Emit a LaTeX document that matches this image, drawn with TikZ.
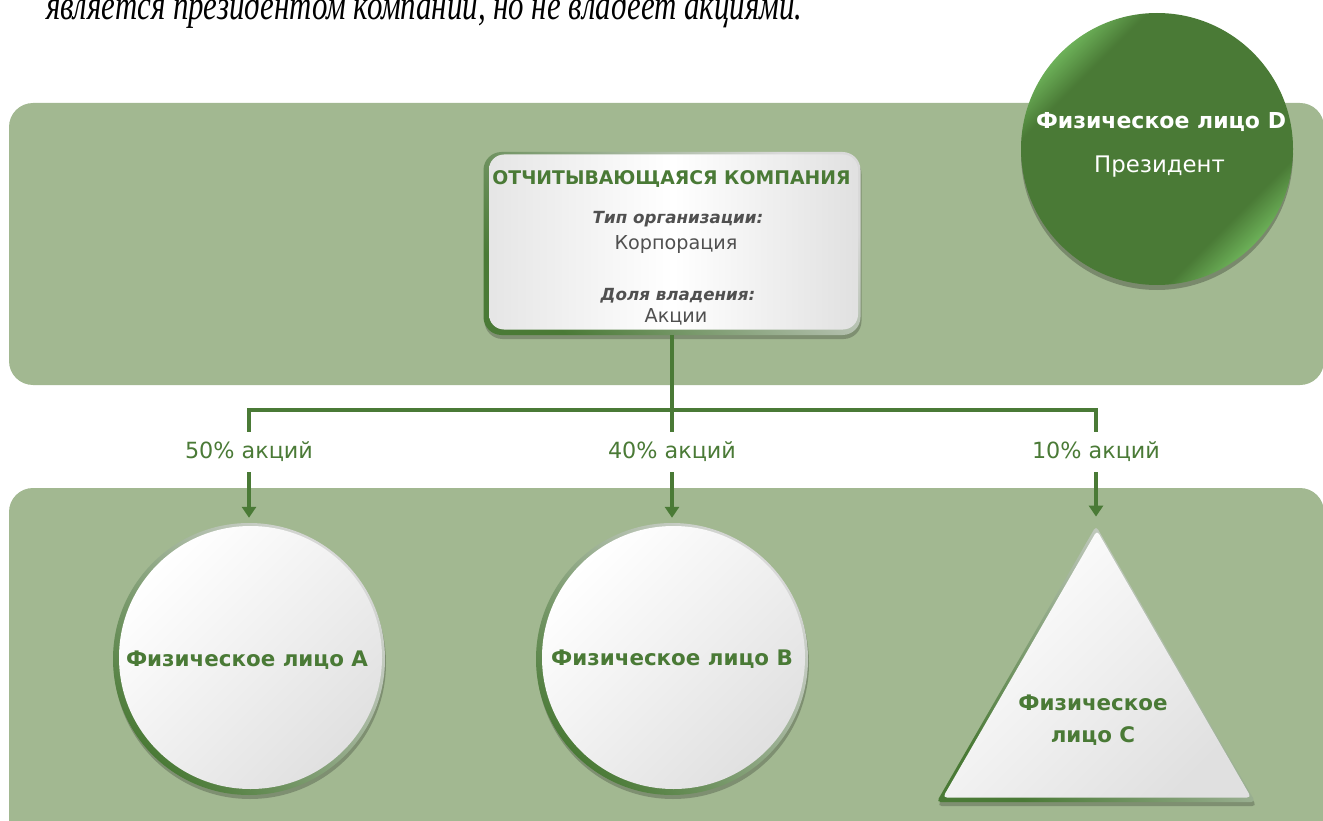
\documentclass[tikz,border=0pt]{standalone}
\usepackage{fontspec}
\usetikzlibrary{shapes.geometric,arrows.meta,shadows}
\newfontfamily\gothic{DejaVu Sans}
\newfontfamily\serifit{Liberation Serif}
\definecolor{bandc}{RGB}{162,184,145}
\definecolor{dgreen}{RGB}{74,122,54}
\definecolor{lgreen}{RGB}{108,176,88}
\definecolor{txtgray}{RGB}{80,80,80}
\pgfdeclareverticalshading{dshade}{100bp}{color(0bp)=(lgreen); color(25bp)=(lgreen); color(31bp)=(dgreen); color(69bp)=(dgreen); color(75bp)=(lgreen); color(100bp)=(lgreen)}
\begin{document}
\begin{tikzpicture}[x=1pt,y=-1pt,
  rim/.style={inner sep=0pt, top color=black!15, bottom color=dgreen, shading angle=-45,
    drop shadow={shadow xshift=1pt, shadow yshift=-4pt, opacity=0.22, fill=black}},
  face/.style={inner sep=0pt, top color=white, bottom color=black!12, shading angle=45},
  gname/.style={font=\gothic\bfseries\fontsize{21.4}{21.4}\selectfont, text=dgreen, anchor=base, inner sep=0pt},
  lbl/.style={font=\gothic\fontsize{22.3}{22.3}\selectfont, text=dgreen, minimum height=40pt, inner sep=0pt},
  conn/.style={draw=dgreen, line width=3.2pt},
  arr/.style={conn, -{Triangle[length=11pt,width=14pt]}},
  boxtxt/.style={anchor=base, inner sep=0pt, text=txtgray}
]
\useasboundingbox (0,0) rectangle (1323,821);

% top note
\node[anchor=base west, inner sep=0pt, font=\serifit\itshape\fontsize{42}{42}\selectfont] (note) at (46,20) {\scalebox{0.735}[1]{является президентом компании, но не владеет акциями.}};

% bands
\fill[bandc, rounded corners=24pt] (9,103) rectangle (1324,385);
\fill[bandc, rounded corners=24pt] (9,488) rectangle (1324,860);

% company box
\node[rim, rounded corners=18pt, minimum width=377pt, minimum height=183pt] (company) at (672,243.5) {};
\node[face, left color=black!10, right color=black!12, middle color=white, rounded corners=15pt, minimum width=369pt, minimum height=175pt] (companyface) at ([xshift=1.5pt,yshift=1.5pt]company.center) {};
\node[anchor=base, inner sep=0pt, text=dgreen, font=\gothic\bfseries\fontsize{18.8}{18.8}\selectfont] (title) at (671.5,185) {ОТЧИТЫВАЮЩАЯСЯ КОМПАНИЯ};
\node[boxtxt, font=\gothic\bfseries\itshape\fontsize{16.7}{16.7}\selectfont] (typeh) at (678,224) {Тип организации:};
\node[boxtxt, font=\gothic\fontsize{19.2}{19.2}\selectfont] (typev) at (676,250) {Корпорация};
\node[boxtxt, font=\gothic\bfseries\itshape\fontsize{16.7}{16.7}\selectfont] (shareh) at (678,301) {Доля владения:};
\node[boxtxt, font=\gothic\fontsize{19.2}{19.2}\selectfont] (sharev) at (676,322) {Акции};

% person D
\node[circle, minimum size=272pt, inner sep=0pt, shading=dshade, shading angle=45,
  drop shadow={shadow xshift=0pt, shadow yshift=-5pt, opacity=0.25, fill=black}] (D) at (1157,149) {};
\node[anchor=base, inner sep=0pt, text=white, font=\gothic\bfseries\fontsize{22}{22}\selectfont] (Dname) at (1161,129) {Физическое лицо D};
\node[anchor=base, inner sep=0pt, text=white, font=\gothic\fontsize{22.8}{22.8}\selectfont] (Dpos) at (1159.5,173) {Президент};

% persons A, B
\node[rim, circle, minimum size=272pt] (A) at (249,659) {};
\node[face, circle, minimum size=263pt] (Aface) at ([xshift=1.5pt,yshift=1.5pt]A.center) {};
\node[gname] (Aname) at (247,666) {Физическое лицо A};
\node[rim, circle, minimum size=272pt] (B) at (672,659) {};
\node[face, circle, minimum size=263pt] (Bface) at ([xshift=1.5pt,yshift=1.5pt]B.center) {};
\node[gname] (Bname) at (672,665) {Физическое лицо B};

% person C
\node[rim, regular polygon, regular polygon sides=3, minimum size=368pt, rounded corners=4pt] (C) at (1096,710) {};
\node[face, regular polygon, regular polygon sides=3, minimum size=356pt, rounded corners=4pt] (Cface) at ([xshift=1pt,yshift=1.5pt]C.center) {};
\node[gname] (Cname1) at (1093,710) {Физическое};
\node[gname] (Cname2) at (1093,742) {лицо C};

% connectors
\coordinate (j) at (672,410);
\node[lbl] (l50) at (249,452) {50\% акций};
\node[lbl] (l40) at (672,452) {40\% акций};
\node[lbl] (l10) at (1096,452) {10\% акций};
\draw[conn] (company.south) -- (j);
\draw[conn] (j) -| (l50.north);
\draw[conn] (j) -| (l10.north);
\draw[conn] (j) -- (l40.north);
\draw[arr, shorten >=5pt] (l50.south) -- (A.north);
\draw[arr, shorten >=5pt] (l40.south) -- (B.north);
\draw[arr, shorten >=9pt] (l10.south) -- (C.north);
\end{tikzpicture}
\end{document}
